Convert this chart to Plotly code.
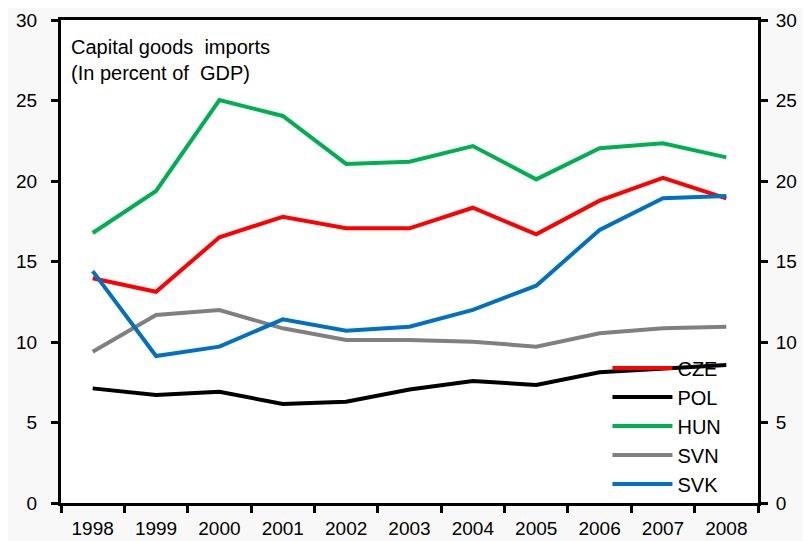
import plotly.graph_objects as go

years = ["1998", "1999", "2000", "2001", "2002", "2003", "2004", "2005", "2006", "2007", "2008"]
cze = [13.96, 13.12, 16.5, 17.78, 17.06, 17.06, 18.34, 16.69, 18.78, 20.2, 18.92]
pol = [7.12, 6.71, 6.91, 6.15, 6.29, 7.05, 7.58, 7.33, 8.12, 8.37, 8.57]
hun = [16.77, 19.38, 25.03, 24.04, 21.06, 21.2, 22.17, 20.1, 22.03, 22.34, 21.47]
svn = [9.4, 11.68, 11.99, 10.85, 10.12, 10.12, 10.02, 9.71, 10.54, 10.85, 10.95]
svk = [14.4, 9.13, 9.71, 11.41, 10.7, 10.95, 11.99, 13.5, 16.96, 18.93, 19.07]
yticks = [0, 5, 10, 15, 20, 25, 30]

series = [("CZE", cze, "#ff0000"), ("POL", pol, "#000000"), ("HUN", hun, "#00b050"),
          ("SVN", svn, "#808080"), ("SVK", svk, "#0070c0")]

fig = go.Figure()
for name, vals, col in series:
    fig.add_trace(go.Scatter(x=years, y=vals, mode="lines", name=name, legendgroup=name,
                             line=dict(color=col, width=4)))

font = dict(family="Liberation Sans, Arial, sans-serif", size=19, color="#000000")
font20 = dict(family="Liberation Sans, Arial, sans-serif", size=20, color="#000000")

fig.update_layout(
    width=803, height=533,
    margin=dict(l=53, r=53, t=12, b=38),
    paper_bgcolor="#f8f8f8", plot_bgcolor="#ffffff",
    font=font,
    showlegend=True,
    legend=dict(x=0.784, y=0.32, xanchor="left", yanchor="top", bgcolor="rgba(0,0,0,0)",
                font=font20, traceorder="grouped", tracegroupgap=0, itemwidth=60),
    xaxis=dict(type="category", tickson="boundaries", ticks="outside", ticklen=7, tickwidth=3,
               tickcolor="#000", showline=True, linewidth=3, linecolor="#000", mirror=True,
               showgrid=False, zeroline=False, ticklabelstandoff=6, range=[-0.5, 10.5],
               automargin=False),
    yaxis=dict(range=[0, 30], tickvals=yticks, ticks="outside", ticklen=7, tickwidth=3,
               tickcolor="#000", showline=True, linewidth=3, linecolor="#000",
               showgrid=False, zeroline=False, ticklabelstandoff=10, automargin=False),
    yaxis2=dict(range=[0, 30], tickvals=yticks, ticks="outside", ticklen=7, tickwidth=3,
                tickcolor="#000", showline=True, linewidth=3, linecolor="#000",
                overlaying="y", side="right", showgrid=False, zeroline=False,
                ticklabelstandoff=4, automargin=False),
    annotations=[dict(text="Capital goods  imports<br>(In percent of  GDP)", xref="paper", yref="paper",
                      x=0.012, y=0.972, xanchor="left", yanchor="top", showarrow=False,
                      align="left", font=font20)],
)
fig.add_trace(go.Scatter(x=years, y=hun, yaxis="y2", mode="lines", showlegend=False,
                         line=dict(color="rgba(0,0,0,0)", width=0), hoverinfo="skip"))

fig.write_html("out.html")
